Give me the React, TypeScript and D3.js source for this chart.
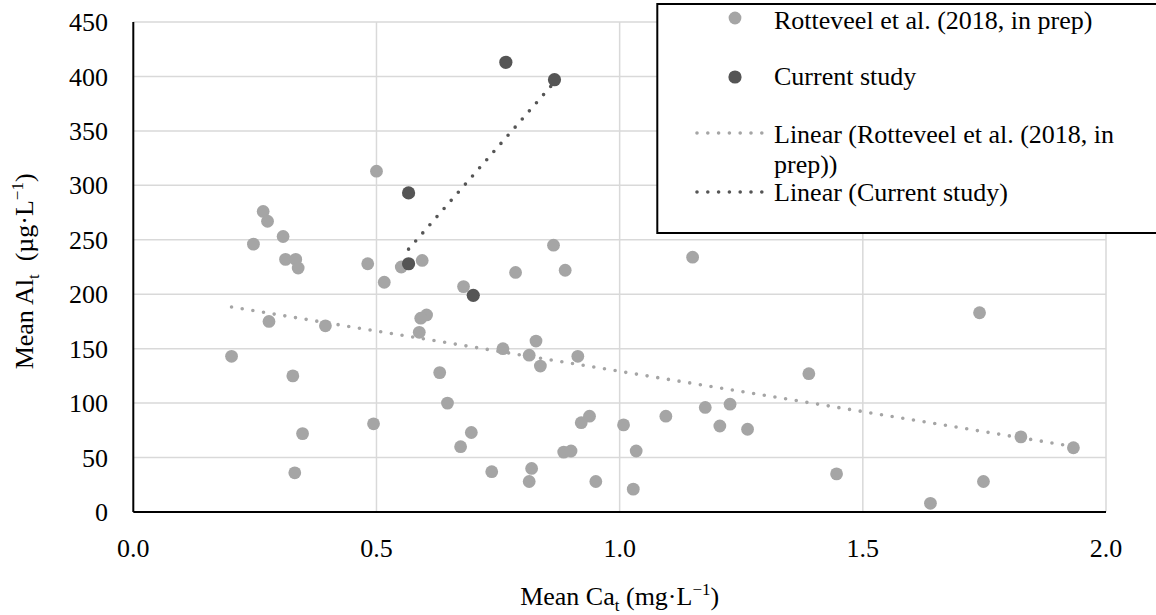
import React from "react";
import * as d3 from "d3";

// Rotteveel et al. (2018, in prep) — Mean Ca_t (mg/L), Mean Al_t (µg/L)
const rotteveelCa = [0.500, 0.267, 0.276, 0.308, 0.247, 0.313, 0.334, 0.339, 0.482, 0.551, 0.594, 0.516, 0.786, 0.679, 0.279, 0.395, 0.603, 0.591, 0.588, 0.760, 0.814, 0.202, 0.328, 0.630, 0.646, 0.494, 0.348, 0.695, 0.673, 0.332, 0.737, 0.819, 0.814, 0.828, 0.837, 0.914, 1.389, 0.938, 0.921, 1.008, 1.095, 1.176, 1.227, 1.206, 1.263, 0.885, 0.900, 1.034, 0.951, 1.028, 1.446, 1.740, 1.825, 1.933, 1.748, 1.639, 0.864, 0.888, 1.150];
const rotteveelAl = [313, 276, 267, 253, 246, 232, 232, 224, 228, 225, 231, 211, 220, 207, 175, 171, 181, 178, 165, 150, 144, 143, 125, 128, 100, 81, 72, 73, 60, 36, 37, 40, 28, 157, 134, 143, 127, 88, 82, 80, 88, 96, 99, 79, 76, 55, 56, 56, 28, 21, 35, 183, 69, 59, 28, 8, 245, 222, 234];

// Current study
const currentCa = [0.566, 0.566, 0.699, 0.766, 0.866];
const currentAl = [293, 228, 199, 413, 397];

// Linear trendline fits (as shown in the chart): [Rotteveel, Current study]
const trendSlopes = [-74.0, 511.3];
const trendIntercepts = [203.2, -48.0];

const xTicks = [0, 0.5, 1.0, 1.5, 2.0];
const yTicks = [0, 50, 100, 150, 200, 250, 300, 350, 400, 450];

const legendLabels = ["Rotteveel et al. (2018, in prep)", "Current study", "Linear (Rotteveel et al. (2018, in", "prep))", "Linear (Current study)"];

const GRAY = "#A5A5A5";
const DARK = "#555555";
const FONT = "'Liberation Serif', 'Times New Roman', serif";

function trend(xs: number[], slope: number, intercept: number) {
  const [x0, x1] = d3.extent(xs) as [number, number];
  return [[x0, intercept + slope * x0], [x1, intercept + slope * x1]] as [number, number][];
}

export default function App() {
  const W = 1156, H = 615;
  const x = d3.scaleLinear().domain([0, 2]).range([133.3, 1106]);
  const y = d3.scaleLinear().domain([0, 450]).range([512, 22]);
  const line = d3.line<[number, number]>().x(d => x(d[0])).y(d => y(d[1]));

  const grayPts = rotteveelCa.map((c, i) => [c, rotteveelAl[i]] as [number, number]);
  const darkPts = currentCa.map((c, i) => [c, currentAl[i]] as [number, number]);
  const grayTrend = trend(rotteveelCa, trendSlopes[0], trendIntercepts[0]);
  const darkTrend = trend(currentCa, trendSlopes[1], trendIntercepts[1]);

  const dotStyle = { strokeWidth: 3.6, strokeLinecap: "round" as const, strokeDasharray: "0 10.8", fill: "none" };

  return (
    <svg width={W} height={H} style={{ position: "absolute", left: 0, top: 0, background: "#fff" }} fontFamily={FONT}>
      {/* gridlines */}
      {yTicks.filter(t => t > 0).map(t => (
        <line key={"gy" + t} x1={x(0)} x2={x(2)} y1={y(t)} y2={y(t)} stroke="#D9D9D9" strokeWidth={1.5} />
      ))}
      {xTicks.filter(t => t > 0).map(t => (
        <line key={"gx" + t} x1={x(t)} x2={x(t)} y1={y(450)} y2={y(0)} stroke="#D9D9D9" strokeWidth={1.5} />
      ))}
      {/* axes */}
      <line x1={x(0)} x2={x(0)} y1={y(450)} y2={y(0)} stroke="#000" strokeWidth={2} />
      <line x1={x(0)} x2={x(2)} y1={y(0)} y2={y(0)} stroke="#000" strokeWidth={2} />
      {/* tick labels */}
      {yTicks.map(t => (
        <text key={"ty" + t} x={108} y={y(t)} dy="0.35em" textAnchor="end" fontSize={26}>{t}</text>
      ))}
      {xTicks.map(t => (
        <text key={"tx" + t} x={x(t)} y={557} textAnchor="middle" fontSize={26}>{d3.format(".1f")(t)}</text>
      ))}
      {/* axis titles */}
      <text x={x(1)} y={605} textAnchor="middle" fontSize={26}>
        Mean Ca<tspan fontSize={17} dy={6}>t</tspan><tspan dy={-6}> (mg·L</tspan><tspan fontSize={17} dy={-10}>−1</tspan><tspan dy={10}>)</tspan>
      </text>
      <text transform={`translate(33,${y(221)}) rotate(-90)`} textAnchor="middle" fontSize={26} xmlSpace="preserve">
        Mean Al<tspan fontSize={17} dy={6}>t</tspan><tspan dy={-6}>{"  (µg·L"}</tspan><tspan fontSize={17} dy={-10}>−1</tspan><tspan dy={10}>)</tspan>
      </text>
      {/* points */}
      {grayPts.map((p, i) => (
        <circle key={"g" + i} cx={x(p[0])} cy={y(p[1])} r={6.4} fill={GRAY} />
      ))}
      {darkPts.map((p, i) => (
        <circle key={"d" + i} cx={x(p[0])} cy={y(p[1])} r={6.6} fill={DARK} />
      ))}
      {/* trendlines */}
      <path d={line(grayTrend)!} stroke={GRAY} {...dotStyle} />
      <path d={line(darkTrend)!} stroke={DARK} {...dotStyle} />
      {/* legend */}
      <rect x={657.3} y={4} width={510} height={229} fill="#fff" stroke="#000" strokeWidth={2} />
      <circle cx={735} cy={18} r={6.4} fill={GRAY} />
      <text x={774} y={29} fontSize={26}>{legendLabels[0]}</text>
      <circle cx={735} cy={77} r={6.6} fill={DARK} />
      <text x={774} y={85} fontSize={26}>{legendLabels[1]}</text>
      <line x1={697} x2={766} y1={133} y2={133} stroke={GRAY} {...dotStyle} />
      <text x={774} y={143} fontSize={26}>{legendLabels[2]}</text>
      <text x={774} y={173} fontSize={26}>{legendLabels[3]}</text>
      <line x1={697} x2={766} y1={192} y2={192} stroke={DARK} {...dotStyle} />
      <text x={774} y={201} fontSize={26}>{legendLabels[4]}</text>
    </svg>
  );
}
